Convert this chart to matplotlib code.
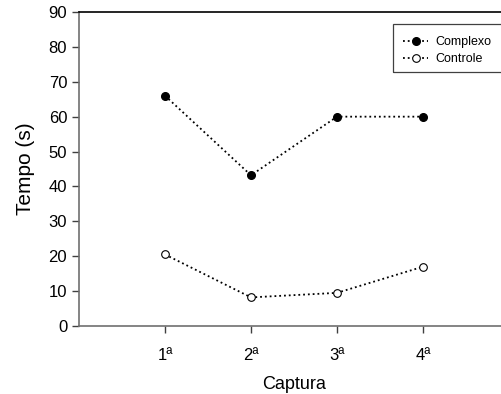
import matplotlib
matplotlib.use('Agg')
import matplotlib.pyplot as plt
from matplotlib.patches import Rectangle

# dados
capturas = ['1ª', '2ª', '3ª', '4ª']
posicoes = [1, 2, 3, 4]
complexo = [66, 43.2, 60, 60]
controle = [20.5, 8.2, 9.5, 17]

plt.rcParams['font.family'] = ['Liberation Sans', 'DejaVu Sans']

W, H = 502, 394
fig = plt.figure(figsize=(W / 100, H / 100), dpi=100)
# eixo estendido para além da borda direita (como no original recortado)
ax = fig.add_axes([79 / W, 68 / H, 430 / W, 314 / H])

ax.plot(posicoes, complexo, linestyle=':', color='black', lw=1.3,
        marker='o', markersize=5.5, markerfacecolor='black',
        markeredgecolor='black', label='Complexo')
ax.plot(posicoes, controle, linestyle=':', color='black', lw=1.3,
        marker='o', markersize=5.5, markerfacecolor='white',
        markeredgecolor='black', markeredgewidth=0.8, label='Controle')

ax.set_xlim(0, 5)
ax.set_ylim(0, 90)
ax.set_yticks(range(0, 91, 10))
ax.set_xticks(posicoes)
ax.set_xticklabels(capturas)
ax.tick_params(labelsize=12, direction='out', length=5, width=1, color='#404040')
ax.tick_params(axis='x', pad=11)

ax.set_ylabel('Tempo (s)', fontsize=15, labelpad=10)
ax.set_xlabel('Captura', fontsize=13, labelpad=9)

for s in ['left', 'bottom']:
    ax.spines[s].set_color('#707070')
    ax.spines[s].set_linewidth(1.2)
ax.spines['top'].set_color('black')
ax.spines['top'].set_linewidth(1.2)
ax.spines['right'].set_visible(False)

# legenda sem moldura + moldura desenhada à parte (passa da borda direita)
leg = ax.legend(loc='upper left', bbox_to_anchor=(397 / W, 1 - 30 / H),
                bbox_transform=fig.transFigure, fontsize=9, frameon=False,
                handlelength=2.0, borderpad=0.0, labelspacing=0.4,
                handletextpad=0.55)
fig.patches.append(Rectangle((393 / W, 1 - 72 / H), 120 / W, 48 / H,
                             transform=fig.transFigure, fill=False,
                             edgecolor='#404040', lw=0.9))

fig.savefig('out.png', dpi=100)
